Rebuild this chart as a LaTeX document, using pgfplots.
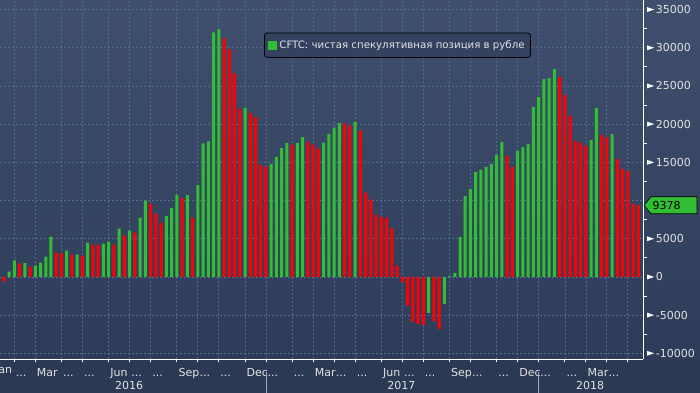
\documentclass[border=0pt]{standalone}
\usepackage{pgfplots}
\pgfplotsset{compat=1.18}
\usepackage{fontspec}
\setmainfont{DejaVu Sans}
\definecolor{bgtop}{RGB}{63,79,109}
\definecolor{bgmid}{RGB}{46,60,89}
\definecolor{bgbot}{RGB}{43,57,85}
\definecolor{gridc}{RGB}{76,110,140}
\definecolor{gbar}{RGB}{50,190,50}
\definecolor{rbar}{RGB}{255,0,0}
\definecolor{txt}{RGB}{226,226,226}
\definecolor{legbg}{RGB}{52,66,96}
\definecolor{sepc}{RGB}{165,170,180}
\newcommand{\tl}{\fontsize{11bp}{13bp}\selectfont}
\newcommand{\dd}{.{}.{}.}
\newcommand{\tri}{\tikz[baseline={(0,-4bp)}]\fill[white] (0,2.4bp) -- (7bp,0) -- (0,-2.4bp) -- cycle;\hspace{1.6bp}}
\begin{document}
\begin{tikzpicture}
\fill[bgbot] (0,0) rectangle (700bp,393bp);
\shade[top color=bgtop, bottom color=bgmid] (0,33.7bp) rectangle (700bp,393bp);
\begin{axis}[
  at={(0bp,33.7bp)}, anchor=south west,
  scale only axis, width=643bp, height=359.3bp,
  xmin=-0.725, xmax=121.9, ymin=-10785, ymax=36250,
  scaled x ticks=false, scaled y ticks=false,
  axis x line*=bottom, axis y line*=right,
  axis line style={white, line width=0.8bp},
  clip mode=individual,
  tick align=outside,
  major tick length=3bp, minor tick length=4bp,
  every tick/.style={white, line width=0.8bp},
  major y tick style={draw=none},
  minor y tick num=1,
  grid=major,
  major grid style={gridc, dash pattern=on 2bp off 2bp, line width=0.7bp},
  xtick={2,6,11,15,20,24,28,33,37,41,46,50,55,59,63,67,72,76,80,85,89,94,98,102,107,111,115,119},
  xticklabels={\dd,Mar,\dd,\dd,Jun,\dd,\dd,Sep,\dd,\dd,Dec,\dd,\dd,Mar,\dd,\dd,Jun,\dd,\dd,Sep,\dd,\dd,Dec,\dd,\dd,Mar,\dd,{}},
  xticklabel style={font=\tl, text=txt, anchor=base west, inner sep=0pt, xshift=1.5bp, yshift=-14bp},
  ytick={-10000,-5000,0,5000,10000,15000,20000,25000,30000,35000},
  yticklabels={\tri-10000,\tri-5000,\tri0,\tri5000,{},\tri15000,\tri20000,\tri25000,\tri30000,\tri35000},
  yticklabel style={font=\tl, text=txt, anchor=west, inner sep=0pt, xshift=1bp},
  legend style={at={(0.4106,0.9091)}, anchor=north west, draw=black, fill=legbg,
    rounded corners=3bp, font=\fontsize{10.2bp}{12bp}\selectfont, text=txt,
    inner xsep=4bp, inner ysep=5.5bp, line width=0.8bp},
]
\addplot[ybar, bar width=3bp, bar shift=0pt, fill=gbar, draw=none,
  legend image code/.code={\fill[gbar, sharp corners] (0bp,-4.5bp) rectangle (9bp,4.5bp);}] table[row sep=\\] {
x y\\
1 700\\ 2 2170\\ 4 1800\\ 6 1480\\ 7 1870\\ 8 2660\\ 9 5270\\
12 3440\\ 14 2950\\ 16 4490\\ 19 4360\\ 20 4620\\
22 6320\\ 24 6060\\ 26 7760\\ 27 9980\\
31 7980\\ 32 9020\\ 33 10730\\ 35 10720\\ 37 12000\\ 38 17490\\ 39 17750\\ 40 32020\\ 41 32410\\
46 22110\\
51 14780\\ 52 15700\\ 53 16870\\ 54 17530\\ 56 17560\\ 57 18310\\
61 17570\\ 62 18740\\ 63 19530\\ 64 20180\\ 67 20310\\
81 -4710\\ 84 -3530\\ 85 100\\ 86 520\\ 87 5230\\ 88 10600\\ 89 11510\\ 90 13730\\ 91 14000\\ 92 14390\\ 93 14780\\ 94 15960\\ 95 17660\\
98 16480\\ 99 17000\\ 100 17400\\ 101 22240\\ 102 23540\\ 103 25900\\ 104 26030\\ 105 27210\\
112 17920\\ 113 22110\\ 116 18700\\
};
\addlegendentry{CFTC: чистая спекулятивная позиция в рубле}
\addplot[ybar, bar width=3bp, bar shift=0pt, fill=rbar, draw=none, forget plot] table[row sep=\\] {
x y\\
0 -600\\ 3 1780\\ 5 1310\\
10 3180\\ 11 3090\\ 13 2920\\ 15 2790\\ 17 4230\\ 18 4200\\
21 4230\\ 23 5400\\ 25 5800\\
28 9550\\ 29 8240\\ 30 7060\\
34 10300\\ 36 7680\\
42 31230\\ 43 29790\\ 44 26650\\ 45 21980\\ 47 21460\\ 48 20930\\ 49 14650\\ 50 14390\\
55 17270\\ 58 17660\\ 59 17310\\ 60 16780\\
65 20100\\ 66 19790\\ 68 19140\\
69 11030\\ 70 10110\\ 71 8150\\ 72 7870\\ 73 7740\\ 74 6430\\ 75 1460\\ 76 -650\\ 77 -3750\\ 78 -5890\\ 79 -6150\\ 80 -6280\\
82 -5760\\ 83 -6800\\
96 15830\\ 97 14390\\
106 26160\\ 107 23810\\ 108 21060\\ 109 17790\\ 110 17530\\ 111 17140\\
114 18570\\ 115 18250\\
117 15430\\ 118 14130\\ 119 13860\\ 120 9550\\ 121 9378\\
};
% Jan 2016 label (its tick lies left of the visible range)
\node[font=\tl, text=txt, anchor=base west, inner sep=0pt] at ([xshift=1.5bp, yshift=-14bp]axis cs:-2,-10785) {Jan};
% year labels
\node[font=\tl, text=txt, anchor=base, inner sep=0pt] at ([yshift=-30bp]axis cs:23.9,-10785) {2016};
\node[font=\tl, text=txt, anchor=base, inner sep=0pt] at ([yshift=-30bp]axis cs:75.8,-10785) {2017};
\node[font=\tl, text=txt, anchor=base, inner sep=0pt] at ([yshift=-30bp]axis cs:111.8,-10785) {2018};
% year separators
\draw[sepc, line width=0.8bp] ([yshift=-12.7bp]axis cs:50,-10785) -- ([yshift=-34bp]axis cs:50,-10785);
\draw[sepc, line width=0.8bp] ([yshift=-12.7bp]axis cs:102,-10785) -- ([yshift=-34bp]axis cs:102,-10785);
% last value tag
\draw[fill=gbar, draw=black, line width=0.6bp]
  ([xshift=1bp]axis cs:121.9,9378) -- ([xshift=8bp,yshift=8.5bp]axis cs:121.9,9378)
  -- ([xshift=54bp,yshift=8.5bp]axis cs:121.9,9378) -- ([xshift=54bp,yshift=-8.5bp]axis cs:121.9,9378)
  -- ([xshift=8bp,yshift=-8.5bp]axis cs:121.9,9378) -- cycle;
\node[font=\tl, text=black, anchor=base west, inner sep=0pt] at ([xshift=9.5bp, yshift=-4.2bp]axis cs:121.9,9378) {9378};
\end{axis}
\pgfresetboundingbox
\useasboundingbox (0,0) rectangle (700bp,393bp);
\end{tikzpicture}
\end{document}
